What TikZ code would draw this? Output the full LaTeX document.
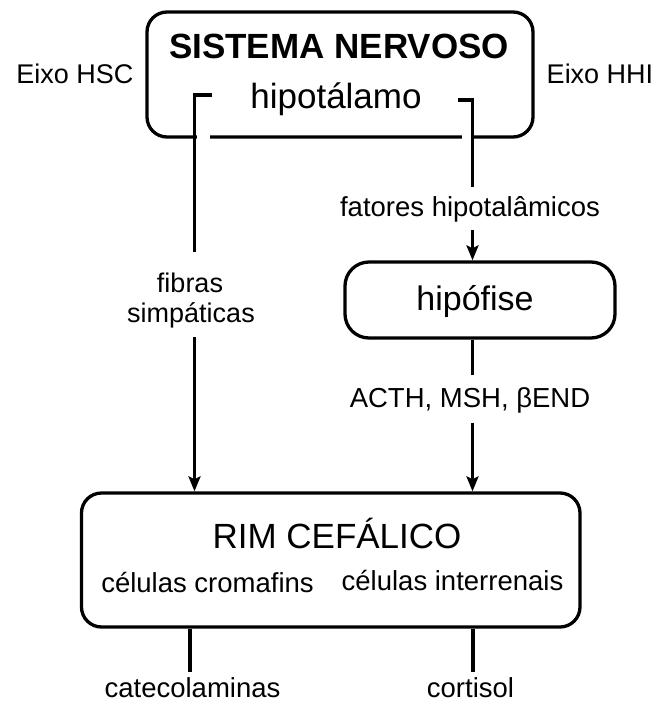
\documentclass[tikz,border=0pt]{standalone}
\usepackage{fontspec}
\setmainfont{Liberation Sans}
\usetikzlibrary{arrows.meta,calc}

\tikzset{
  box/.style={draw, line width=3.3pt, rounded corners=20pt, inner sep=0pt},
  wire/.style={line width=3.5pt, line cap=butt},
  flow/.style={wire, -{Stealth[length=15pt,width=12pt,inset=3pt]}},
  lbl/.style={inner sep=0pt, anchor=base, font=\fontsize{27.5}{32}\selectfont},
  head/.style={inner sep=0pt, anchor=base, font=\fontsize{35}{40}\selectfont},
}

\begin{document}
\begin{tikzpicture}[x=1pt,y=-1pt]
  \useasboundingbox (0,0) rectangle (656,702);

  % nervous system box
  \node[box, minimum width=386pt, minimum height=125pt] (sn) at (340,74.5) {};
  \node[head, font=\fontsize{35}{40}\bfseries\selectfont] (title) at (339,58) {SISTEMA NERVOSO};
  \node[head] (hipo) at (336,108) {hipotálamo};

  % axis labels
  \node[lbl, font=\fontsize{27}{32}\selectfont] (hsc) at (75,83) {Eixo HSC};
  \node[lbl, font=\fontsize{27}{32}\selectfont] (hhi) at (600,83) {Eixo HHI};

  % pituitary
  \node[box, rounded corners=24pt, minimum width=270pt, minimum height=76pt] (hyp) at (480,300) {};
  \node[head, font=\fontsize{34}{40}\selectfont] (hyptxt) at (475,310) {hipófise};

  % head kidney
  \node[box, minimum width=498.5pt, minimum height=134pt] (rim) at (330.75,560) {};
  \node[head] (rimtxt) at (337,548) {RIM CEFÁLICO};
  \node[lbl] (crom) at (207.5,592) {células cromafins};
  \node[lbl] (inter) at (452.5,590) {células interrenais};

  % pathway labels
  \node[lbl, font=\fontsize{27}{32}\selectfont] (fib1) at (190,292) {fibras};
  \node[lbl, font=\fontsize{27}{32}\selectfont] (fib2) at (191,322) {simpáticas};
  \node[lbl] (fat) at (470,216) {fatores hipotalâmicos};
  \node[lbl] (acth) at (470,407) {ACTH, MSH, βEND};
  \node[lbl] (cat) at (192.5,697) {catecolaminas};
  \node[lbl] (cort) at (470.5,697) {cortisol};

  % bracket corners inside the nervous system box
  \coordinate (hlend) at (212,95);
  \coordinate (hl) at (194.5,95);
  \coordinate (hrend) at (458,100);
  \coordinate (hr) at (472.5,100);

  % openings in the lower border where the pathways leave
  \fill[white] (196.5,132) rectangle (210,142);
  \fill[white] (462,132) rectangle (470.5,142);

  % sympathetic pathway (HSC)
  \draw[wire] (hlend) -- (hl) -- (hl |- 0,252);
  \draw[flow] (hl |- 0,337) -- (hl |- rim.north);

  % HPI pathway (HHI)
  \draw[wire] (hrend) -- (hr) -- (hr |- 0,187);
  \draw[flow] (hr |- 0,230) -- (hr |- hyp.north);
  \draw[wire] (hr |- hyp.south) -- (hr |- 0,375);
  \draw[flow] (hr |- 0,423) -- (hr |- rim.north);

  % secretions
  \draw[wire] (cat |- rim.south) ++(-2.5,0) coordinate (catout) -- (catout |- 0,672);
  \draw[wire] (cort |- rim.south) ++(2.5,0) coordinate (cortout) -- (cortout |- 0,672);
\end{tikzpicture}
\end{document}
